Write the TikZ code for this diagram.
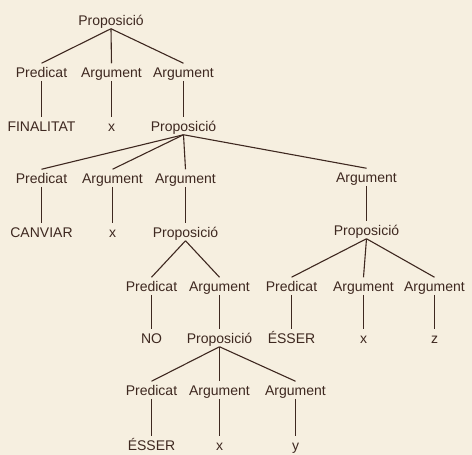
\documentclass[tikz,border=0pt]{standalone}
\usepackage{fontspec}
\setmainfont{Liberation Sans}
\definecolor{ink}{RGB}{62,40,32}
\definecolor{paper}{RGB}{246,239,224}
\begin{document}
\begin{tikzpicture}[x=1pt,y=-1pt,
  lab/.style={inner sep=0pt,text height=10.5pt,text depth=0pt,outer ysep=3.5pt,
    font=\fontsize{14}{16}\selectfont,text=ink},
  edge/.style={draw=ink,line width=1.1pt}]
\fill[paper] (0,0) rectangle (472,455);
\useasboundingbox (0,0) rectangle (472,455);
% row 1
\node[lab] (p1) at (111,20) {Proposició};
% row 2
\node[lab] (r2a) at (41.5,72) {Predicat};
\node[lab] (r2b) at (111.5,72) {Argument};
\node[lab] (r2c) at (183.5,72) {Argument};
% row 3
\node[lab] (r3a) at (41.5,126) {FINALITAT};
\node[lab] (r3b) at (111.5,126) {x};
\node[lab] (p2) at (183.5,126) {Proposició};
% row 4
\node[lab] (r4a) at (41.5,178) {Predicat};
\node[lab] (r4b) at (112.5,178) {Argument};
\node[lab] (r4c) at (185.5,178) {Argument};
\node[lab] (r4d) at (366.5,177) {Argument};
% row 5
\node[lab] (r5a) at (41.5,232) {CANVIAR};
\node[lab] (r5b) at (112.5,232) {x};
\node[lab] (p3) at (185.5,232) {Proposició};
\node[lab] (p4) at (366.5,230) {Proposició};
% row 6
\node[lab] (r6a) at (151.5,286) {Predicat};
\node[lab] (r6b) at (219.5,286) {Argument};
\node[lab] (r6c) at (291.5,286) {Predicat};
\node[lab] (r6d) at (363.5,286) {Argument};
\node[lab] (r6e) at (434.5,286) {Argument};
% row 7
\node[lab] (r7a) at (151.5,338) {NO};
\node[lab] (p5) at (219.5,338) {Proposició};
\node[lab] (r7c) at (291.5,338) {ÉSSER};
\node[lab] (r7d) at (363.5,338) {x};
\node[lab] (r7e) at (434.5,338) {z};
% row 8
\node[lab] (r8a) at (151.5,390) {Predicat};
\node[lab] (r8b) at (219.5,390) {Argument};
\node[lab] (r8c) at (295.5,390) {Argument};
% row 9
\node[lab] (r9a) at (151.5,445) {ÉSSER};
\node[lab] (r9b) at (219.5,445) {x};
\node[lab] (r9c) at (295.5,445) {y};
% connectors
\path[edge] (p1.south) -- (r2a.north);
\path[edge] (p1.south) -- (r2b.north);
\path[edge] (p1.south) -- (r2c.north);
\path[edge] (r2a.south) -- (r3a.north);
\path[edge] (r2b.south) -- (r3b.north);
\path[edge] (r2c.south) -- (p2.north);
\path[edge] (p2.south) -- (r4a.north);
\path[edge] (p2.south) -- (r4b.north);
\path[edge] (p2.south) -- (r4c.north);
\path[edge] (p2.south) -- (r4d.north);
\path[edge] (r4a.south) -- (r5a.north);
\path[edge] (r4b.south) -- (r5b.north);
\path[edge] (r4c.south) -- (p3.north);
\path[edge] (r4d.south) -- (p4.north);
\path[edge] (p3.south) -- (r6a.north);
\path[edge] (p3.south) -- (r6b.north);
\path[edge] (p4.south) -- (r6c.north);
\path[edge] (p4.south) -- (r6d.north);
\path[edge] (p4.south) -- (r6e.north);
\path[edge] (r6a.south) -- (r7a.north);
\path[edge] (r6b.south) -- (p5.north);
\path[edge] (r6c.south) -- (r7c.north);
\path[edge] (r6d.south) -- (r7d.north);
\path[edge] (r6e.south) -- (r7e.north);
\path[edge] (p5.south) -- (r8a.north);
\path[edge] (p5.south) -- (r8b.north);
\path[edge] (p5.south) -- (r8c.north);
\path[edge] (r8a.south) -- (r9a.north);
\path[edge] (r8b.south) -- (r9b.north);
\path[edge] (r8c.south) -- (r9c.north);
\end{tikzpicture}
\end{document}
